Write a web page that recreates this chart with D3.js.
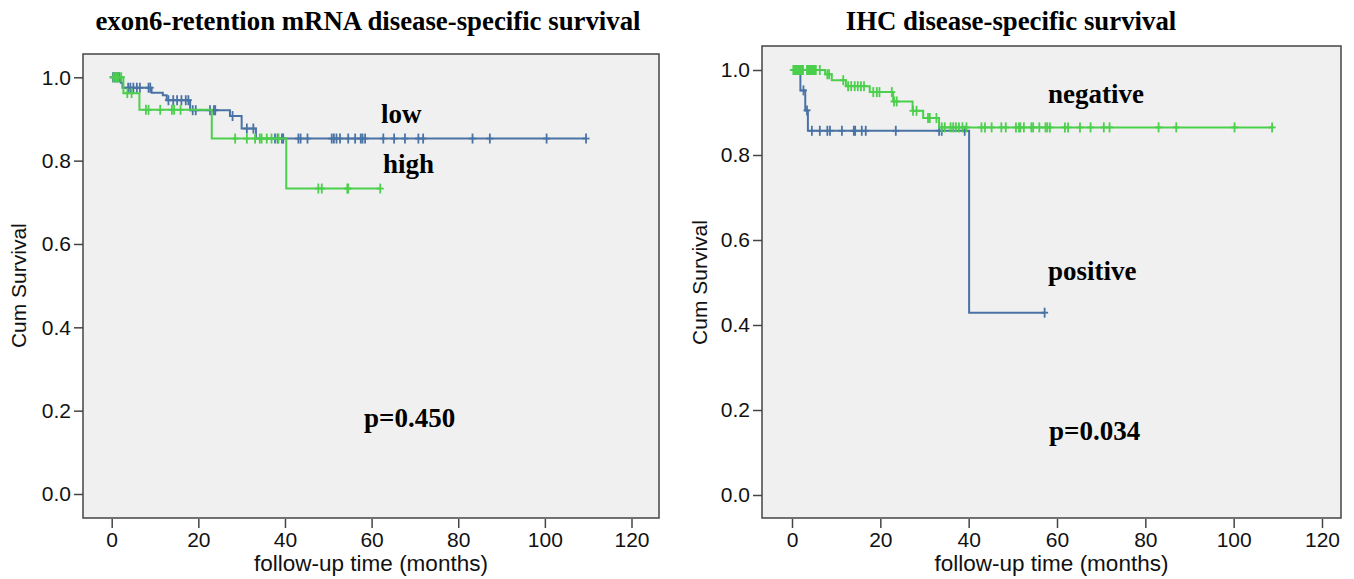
<!DOCTYPE html>
<html>
<head>
<meta charset="utf-8">
<script src="https://cdn.jsdelivr.net/npm/d3@7"></script>
<style>
  body { margin: 0; background: #fff; }
  svg { display: block; }
</style>
</head>
<body>
<div id="chart"></div>
<script>
// ---- data: follow-up time in months, cumulative survival ----
// left panel: exon6-retention mRNA
var lowEventTimes = [2.1, 2.5, 9.2, 11.8, 12.7, 18.1, 27.3, 30.0, 33.3];
var lowSurv       = [0.987, 0.975, 0.963, 0.957, 0.945, 0.921, 0.907, 0.877, 0.853];
var lowCensor = [0.3, 0.6, 0.9, 1.2, 1.5, 1.8, 3.8, 4.3, 5.0, 5.8, 6.5, 8.5, 8.9,
  13.1, 14.2, 15.1, 16.1, 17.1, 17.7, 18.7, 19.4, 22.7, 23.6, 23.9, 27.9, 31.2, 32.7,
  37.7, 38.3, 39.3, 39.6, 43.1, 43.6, 45.2, 50.8, 51.3, 51.9, 52.7, 54.6, 56.2, 57.5,
  57.9, 58.5, 62.7, 65.2, 67.7, 70.8, 71.9, 83.3, 87.3, 100.4, 109.5];

var highEventTimes = [2.7, 6.4, 23.1, 40.3];
var highSurv       = [0.962, 0.922, 0.853, 0.733];
var highCensor = [0.4, 0.8, 1.2, 1.6, 2.2, 3.6, 4.6, 7.9, 8.5, 11.2, 13.9, 14.4, 15.9,
  28.5, 31.2, 33.1, 34.2, 34.6, 35.8, 36.9, 38.5, 47.7, 48.5, 54.4, 54.6, 62.0];

// right panel: IHC
var negEventTimes = [7.5, 9.0, 12.2, 17.6, 22.9, 27.3, 29.7, 33.3];
var negSurv       = [0.990, 0.976, 0.962, 0.948, 0.926, 0.904, 0.887, 0.865];
var negCensor = [0.3, 0.5, 0.7, 0.9, 1.1, 1.3, 1.5, 1.7, 1.9, 2.1, 2.3, 2.5,
  3.4, 3.6, 3.8, 4.0, 4.2, 4.4, 4.6, 4.8, 5.0, 5.2, 5.4, 6.3, 8.0, 8.4, 11.6, 12.7,
  13.4, 14.2, 14.9, 15.6, 16.3, 18.4, 19.2, 19.8, 22.6, 23.1, 23.7, 27.4, 28.2, 30.8,
  31.2, 32.7, 33.9, 34.6, 35.9, 36.5, 37.1, 37.8, 38.6, 39.5, 42.9, 43.7, 45.2, 47.4,
  48.4, 50.7, 51.4, 51.7, 52.5, 54.2, 54.6, 56.0, 57.4, 57.8, 58.4, 61.8, 62.5, 65.2,
  67.6, 70.6, 71.9, 83.0, 87.0, 100.2, 108.7];

var posEventTimes = [1.9, 3.0, 3.6, 40.1];
var posSurv       = [0.952, 0.905, 0.857, 0.429];
var posCensor = [2.6, 3.4, 4.5, 6.3, 8.0, 8.6, 11.3, 14.0, 14.3, 15.8, 16.7, 23.5,
  33.3, 33.9, 39.1, 57.2];

var xTicks = [0, 20, 40, 60, 80, 100, 120];
var yTicks = [0, 0.2, 0.4, 0.6, 0.8, 1.0];

var blue = "#4a73a5", green = "#4ccf4c";
var sans = "Liberation Sans, Arial, sans-serif",
  serif = "Liberation Serif, Times New Roman, serif";

var svg = d3.select("#chart").append("svg")
  .attr("width", 1354)
  .attr("height", 579);

function survAt(times, surv, t) {
  var i = d3.bisectRight(times, t);
  return i ? surv[i - 1] : 1;
}

function drawPanel(p) {
  var x = d3.scaleLinear().domain([0, 120]).range(p.xRange),
    y = d3.scaleLinear().domain([0, 1]).range(p.yRange);

  var g = svg.append("g");

  g.append("rect")
    .attr("x", p.frame[0]).attr("y", p.frame[1])
    .attr("width", p.frame[2] - p.frame[0])
    .attr("height", p.frame[3] - p.frame[1])
    .attr("fill", "#f0f0f0")
    .attr("stroke", "#444")
    .attr("stroke-width", 1.5);

  // axes
  var yAxis = g.append("g")
    .attr("transform", "translate(" + p.frame[0] + ",0)")
    .call(d3.axisLeft(y).tickValues(yTicks).tickFormat(d3.format(".1f"))
      .tickSize(9).tickPadding(3).tickSizeOuter(0));
  var xAxis = g.append("g")
    .attr("transform", "translate(0," + (p.frame[3] + 1) + ")")
    .call(d3.axisBottom(x).tickValues(xTicks).tickSize(9).tickPadding(4).tickSizeOuter(0));
  [xAxis, yAxis].forEach(function(a) {
    a.select(".domain").remove();
    a.selectAll("line").attr("stroke", "#444").attr("stroke-width", 1.5);
    a.selectAll("text")
      .attr("fill", "#111")
      .style("font-family", sans)
      .style("font-size", "21px");
  });

  g.append("text")
    .attr("x", (p.frame[0] + p.frame[2]) / 2)
    .attr("y", 571)
    .attr("text-anchor", "middle")
    .attr("fill", "#111")
    .style("font-family", sans)
    .style("font-size", "22.5px")
    .text("follow-up time (months)");

  g.append("text")
    .attr("transform", "translate(" + p.yTitleX + "," + y(0.5) + ") rotate(-90)")
    .attr("text-anchor", "middle")
    .attr("fill", "#111")
    .style("font-family", sans)
    .style("font-size", "21px")
    .text("Cum Survival");

  g.append("text")
    .attr("x", p.titleX).attr("y", 30)
    .attr("text-anchor", "middle")
    .style("font-family", serif)
    .style("font-weight", "bold")
    .style("font-size", "26.8px")
    .text(p.title);

  var line = d3.line()
    .x(function(d) { return x(d[0]); })
    .y(function(d) { return y(d[1]); })
    .curve(d3.curveStepAfter);

  p.curves.forEach(function(c) {
    var end = d3.max(c.censor);
    var pts = [[0, 1]].concat(c.times.map(function(t, i) { return [t, c.surv[i]]; }));
    pts.push([end, survAt(c.times, c.surv, end)]);

    g.append("path")
      .attr("d", line(pts))
      .attr("fill", "none")
      .attr("stroke", c.color)
      .attr("stroke-width", 2);

    // censor marks
    var marks = g.append("g").attr("stroke", c.color).attr("stroke-width", 1.8);
    marks.selectAll("line.v")
      .data(c.censor)
      .enter().append("line")
      .attr("class", "v")
      .attr("x1", function(d) { return x(d); })
      .attr("x2", function(d) { return x(d); })
      .attr("y1", function(d) { return y(survAt(c.times, c.surv, d)) - 5; })
      .attr("y2", function(d) { return y(survAt(c.times, c.surv, d)) + 5; });
    marks.selectAll("line.h")
      .data(c.censor)
      .enter().append("line")
      .attr("class", "h")
      .attr("x1", function(d) { return x(d) - 3.5; })
      .attr("x2", function(d) { return x(d) + 3.5; })
      .attr("y1", function(d) { return y(survAt(c.times, c.surv, d)); })
      .attr("y2", function(d) { return y(survAt(c.times, c.surv, d)); });
  });

  p.labels.forEach(function(l) {
    g.append("text")
      .attr("x", l[1]).attr("y", l[2])
      .style("font-family", serif)
      .style("font-weight", "bold")
      .style("font-size", "27px")
      .text(l[0]);
  });
}

drawPanel({
  title: "exon6-retention mRNA disease-specific survival",
  titleX: 368,
  frame: [83, 54, 659, 518],
  xRange: [111.7, 631.5],
  yRange: [494, 77.3],
  yTitleX: 26,
  curves: [
    { times: lowEventTimes, surv: lowSurv, censor: lowCensor, color: blue },
    { times: highEventTimes, surv: highSurv, censor: highCensor, color: green }
  ],
  labels: [["low", 381, 123], ["high", 383, 173], ["p=0.450", 364, 427]]
});

drawPanel({
  title: "IHC disease-specific survival",
  titleX: 1011,
  frame: [762, 46, 1341, 518],
  xRange: [792, 1322],
  yRange: [495, 70],
  yTitleX: 707,
  curves: [
    { times: posEventTimes, surv: posSurv, censor: posCensor, color: blue },
    { times: negEventTimes, surv: negSurv, censor: negCensor, color: green }
  ],
  labels: [["negative", 1048, 103], ["positive", 1048, 280], ["p=0.034", 1049, 440]]
});
</script>
</body>
</html>
